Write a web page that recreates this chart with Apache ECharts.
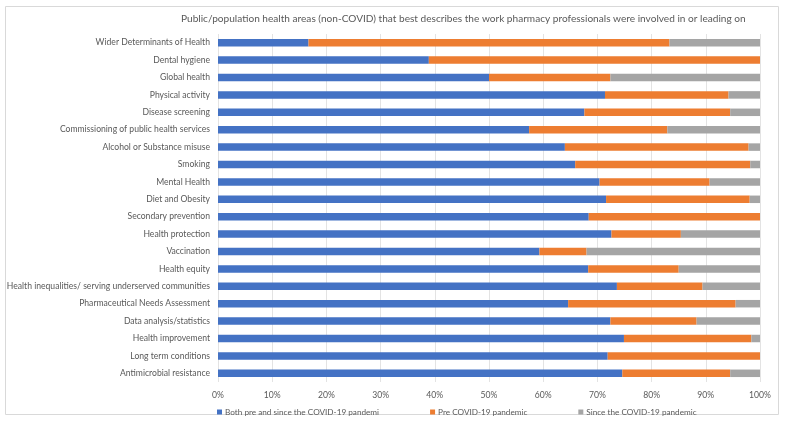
<!DOCTYPE html>
<html><head><meta charset="utf-8">
<script src="https://cdn.jsdelivr.net/npm/echarts@6/dist/echarts.min.js"></script>
<style>html,body{margin:0;padding:0;background:#fff}#c{width:785px;height:429px}</style>
</head><body><div id="c"></div>
<script>
const categories = ["Wider Determinants of Health","Dental hygiene","Global health","Physical activity","Disease screening","Commissioning of public health services","Alcohol or Substance misuse","Smoking","Mental Health","Diet and Obesity","Secondary prevention","Health protection","Vaccination","Health equity","Health inequalities/ serving underserved communities","Pharmaceutical Needs Assessment","Data analysis/statistics","Health improvement","Long term conditions","Antimicrobial resistance"];
const bothValues = [16.7,38.9,50.0,71.4,67.6,57.4,64.0,65.9,70.4,71.6,68.4,72.6,59.3,68.3,73.6,64.6,72.4,74.9,71.9,74.6];
const preValues = [66.6,61.1,22.4,22.8,26.9,25.5,33.9,32.3,20.3,26.5,31.6,12.8,8.7,16.7,15.8,30.9,15.9,23.5,28.1,19.9];
const sinceValues = [16.7,0,27.6,5.8,5.5,17.1,2.1,1.8,9.3,1.9,0,14.6,32.0,15.0,10.6,4.5,11.7,1.6,0,5.5];
const seriesNames = ["Both pre and since the COVID-19 pandemi","Pre COVID-19 pandemic","Since the COVID-19 pandemic"];
const colors = ["#4472C4","#ED7D31","#A5A5A5"];
const font = "Lato";
const chart = echarts.init(document.getElementById('c'));
const mk = (name, data, i) => ({name, type:'bar', stack:'s', data, barWidth:7.5, itemStyle:{color:colors[i]}, emphasis:{disabled:true}});
chart.setOption({
  animation:false,
  graphic:[{type:'rect', shape:{x:5.5,y:6.5,width:773,height:408}, style:{fill:'none',stroke:'#d9d9d9',lineWidth:1}, silent:true}],
  title:{text:"Public/population health areas (non-COVID) that best describes the work pharmacy professionals were involved in or leading on", left:176, top:9, textStyle:{fontFamily:font,fontSize:10.1,fontWeight:'normal',color:'#595959'}},
  grid:{left:218, right:25, top:34, height:348, containLabel:false, outerBoundsMode:'none'},
  xAxis:{type:'value', min:0, max:100, interval:10, axisLabel:{formatter:'{value}%', fontFamily:font, fontSize:8.6, color:'#595959', margin:9}, splitLine:{lineStyle:{color:'#e3e3e3'}}, axisLine:{show:false}, axisTick:{show:false}},
  yAxis:{type:'category', data:categories, inverse:true, axisLabel:{fontFamily:font, fontSize:8.6, color:'#595959', margin:8}, axisLine:{show:false}, axisTick:{show:false}},
  legend:{left:212, top:403, itemWidth:5, itemHeight:5, itemGap:51, icon:'rect', textStyle:{fontFamily:font,fontSize:8.2,color:'#595959', padding:[0,0,0,-2]}, data:seriesNames},
  series:[mk(seriesNames[0],bothValues,0),mk(seriesNames[1],preValues,1),mk(seriesNames[2],sinceValues,2)]
});
</script></body></html>
